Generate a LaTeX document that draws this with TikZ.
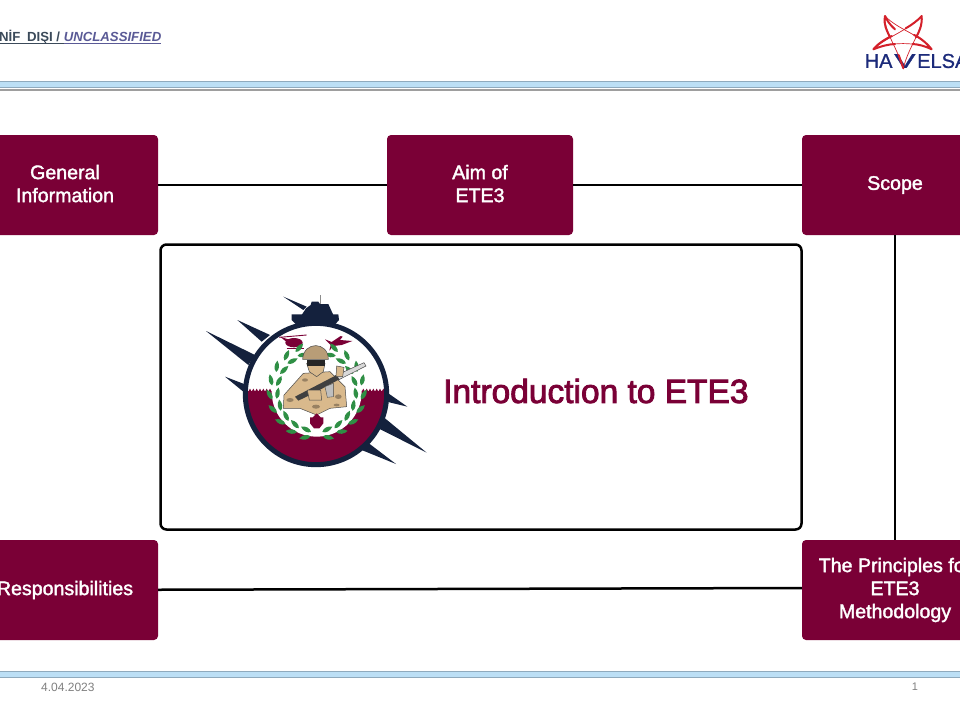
\documentclass[tikz,border=0pt]{standalone}
\usepackage{fontspec}
\setmainfont{Liberation Sans}
\newfontfamily\boxfont[FakeBold=1.8]{Liberation Sans}
\newfontfamily\titlefont[FakeBold=2.6]{Liberation Sans}
\newfontfamily\logofont[FakeBold=1]{Liberation Sans}
\usetikzlibrary{positioning}
\definecolor{maroon}{HTML}{7A0036}
\definecolor{navyring}{HTML}{14213D}
\definecolor{leafgreen}{HTML}{2F8F45}
\definecolor{khaki}{HTML}{D9B98C}
\definecolor{logoblue}{HTML}{1B2A7A}
\definecolor{logored}{HTML}{D4202A}
\definecolor{bandblue}{HTML}{BCDFF5}
\definecolor{bandedge}{HTML}{8FAABD}
\tikzset{
    topicbox/.style={fill=maroon,rounded corners=4pt,minimum width=186pt,minimum height=100pt,
        inner sep=0pt,align=center,text=white,font=\boxfont\fontsize{19.6}{23}\selectfont},
    band/.style={fill=bandblue},
    bandline/.style={draw=bandedge,line width=1pt},
    leaf/.style={fill=leafgreen},
    patch/.style={fill=khaki!70!black},
    kit/.style={fill=khaki,draw=black!70,line width=0.5pt},
}
\newcommand{\leafshape}{(0,0) .. controls (8,9) and (22,9) .. (34,0) .. controls (22,-9) and (8,-9) .. (0,0)}
\newcommand{\liftup}{\\[-20pt]\mbox{}}
\begin{document}
\begin{tikzpicture}[x=1pt,y=-1pt]
    \useasboundingbox (0,0) rectangle (960,720);
    \clip (0,0) rectangle (960,720);
    \fill[white] (0,0) rectangle (960,720);

    % header and footer
    \fill[band] (0,81) rectangle (960,88);
    \draw[bandline] (0,81) -- (960,81) (0,87.5) -- (960,87.5);
    \fill[black!38] (0,88.5) rectangle (960,90.5);
    \fill[band] (0,671) rectangle (960,678);
    \draw[bandline] (0,671) -- (960,671) (0,677.5) -- (960,677.5);
    \node (class) [anchor=base east,inner sep=0pt,font=\bfseries\fontsize{13.2}{15}\selectfont] at (161.5,41.5)
        {\color[HTML]{3B4A5A}\underline{\smash{TASNİF\hspace{3pt} DIŞI /\ }}\color[HTML]{5A5A96}\underline{\smash{\itshape UNCLASSIFIED}}};
    \node (date) [anchor=west,inner sep=0pt,text=black!50,font=\fontsize{12}{14}\selectfont] at (41,687) {4.04.2023};
    \node (page) [inner sep=0pt,text=black!50,font=\fontsize{11}{13}\selectfont] at (915,687) {1};

    % company logo
    \begin{scope}[every node/.style={anchor=west,inner sep=0pt,text=logoblue,font=\logofont\fontsize{20}{24}\selectfont}]
        \node (logoa) at (864.5,61) {HA};
        \node (logob) at (894,61) {\scalebox{1.6}[1]{V}};
        \node (logoc) at (917,61) {ELSAN};
    \end{scope}
    \begin{scope}[shift={(840,0)},scale=1/3,logored,line width=0.7pt,line cap=round]
        \draw (135,48) .. controls (175,90) and (235,100) .. (275,148);
        \draw (245,48) .. controls (200,95) and (140,110) .. (100,148);
        \draw (135,48) .. controls (130,90) and (170,140) .. (190,205);
        \draw (245,48) .. controls (250,90) and (205,140) .. (190,205);
        \draw (100,148) .. controls (150,125) and (230,125) .. (275,148);
        \draw[line width=2pt,line join=round] (165,88) .. controls (150,75) and (140,60) .. (135,48) .. controls (130,75) and (140,90) .. (150,112);
        \draw[line width=2pt,line join=round] (197,85) .. controls (215,75) and (235,60) .. (245,48) .. controls (247,75) and (238,95) .. (228,112);
        \draw[line width=2pt,line join=round] (222,105) .. controls (245,115) and (265,135) .. (275,148) .. controls (255,138) and (235,133) .. (218,132);
        \draw[line width=2pt,line join=round] (155,108) .. controls (130,120) and (110,135) .. (100,148) .. controls (125,138) and (145,133) .. (165,132);
        \draw[line width=2pt,line cap=round] (176,165) -- (190,205);
    \end{scope}

    % boxes
    \node (general) [topicbox] at (65,185) {General\\Information\liftup};
    \node (aim) [topicbox] at (480,185) {Aim of\\ETE3\liftup};
    \node (scope) [topicbox] at (895,185) {Scope};
    \node (resp) [topicbox] at (65,590) {Responsibilities};
    \node (princ) [topicbox] at (895,590) {The Principles for\\ETE3\\Methodology};
    \node (centre) [draw=black,line width=2.5pt,rounded corners=6pt,minimum width=641pt,minimum height=285pt] at (481,387) {};
    \node (title) [text=maroon,inner sep=0pt,anchor=west,font=\titlefont\fontsize{33.5}{38}\selectfont] at (443,391) {Introduction to ETE3};

    \begin{scope}[every path/.style={line width=2.5pt,black}]
        \path (general) edge (aim);
        \path (aim) edge (scope);
        \path (scope) edge (princ);
        \path (resp) edge ([yshift=2pt]princ.west);
    \end{scope}

    % emblem
    \begin{scope}[shift={(190,280)},scale=1/3]
        \fill[navyring] (48,153) -- (195,225) -- (175,255) -- cycle;
        \fill[navyring] (142,120) -- (240,165) -- (215,185) -- cycle;
        \fill[navyring] (105,290) -- (170,315) -- (160,335) -- cycle;
        \fill[navyring] (652,380) -- (590,365) -- (595,340) -- cycle;
        \fill[navyring] (710,518) -- (565,445) -- (585,415) -- cycle;
        \fill[navyring] (618,552) -- (515,510) -- (530,485) -- cycle;
        % tank
        \fill[navyring] (280,50) -- (350,80) -- (340,90) -- cycle;
        \draw[black!45,line width=0.8pt] (392,45) -- (392,75);
        \fill[navyring] (335,105) -- (348,85) -- (362,75) -- (365,65) -- (385,65) -- (390,72) -- (415,72) -- (430,105) -- cycle;
        \fill[navyring] (305,103) -- (445,103) -- (447,120) -- (425,145) -- (330,145) -- (305,120) -- cycle;
        % badge
        \fill[white] (378,342) circle (208);
        \begin{scope}
            \clip (378,342) circle (208);
            \fill[maroon] (160,332) rectangle (600,570);
            \foreach \xx in {170,180,...,590}
                \fill[maroon] (\xx-4,333) -- (\xx,326) -- (\xx+4,333) -- cycle;
        \end{scope}
        \fill[white] (380,335) circle (135);
        \draw[navyring,line width=5pt] (378,342) circle (212);
        % helicopter and plane
        \fill[maroon] (312,188) ellipse (26 and 14);
        \fill[maroon] (270,170) -- (295,178) -- (295,190) -- cycle;
        \draw[maroon,line width=0.9pt] (268,172) -- (350,165);
        \draw[maroon,line width=0.9pt] (290,205) -- (342,205);
        \fill[maroon] (405,178) -- (425,186) -- (452,168) -- (458,170) -- (450,180) -- (487,183) -- (455,195) -- (430,198) -- (418,212) -- (422,195) -- cycle;
        % wreath
        \foreach \ang in {-82,-64,...,72} {
            \begin{scope}[shift={(380,335)},rotate=\ang]
                \fill[leaf,shift={(135,0)},rotate=70] \leafshape;
                \fill[leaf,shift={(122,0)},rotate=110] \leafshape;
            \end{scope}
        }
        \foreach \ang in {262,244,...,108} {
            \begin{scope}[shift={(380,335)},rotate=\ang]
                \fill[leaf,shift={(135,0)},rotate=-70] \leafshape;
                \fill[leaf,shift={(122,0)},rotate=-110] \leafshape;
            \end{scope}
        }
        % soldier
        \fill[black!15,draw=black!70,line width=0.5pt] (522,248) -- (528,258) -- (395,325) -- (385,310) -- cycle;
        \fill[kit] (280,385) -- (282,345) -- (340,280) -- (420,275) -- (465,320) -- (470,380) -- (420,385) -- (380,405) -- (330,385) -- cycle;
        \fill[patch] (300,360) ellipse (11 and 6);
        \fill[patch] (445,350) ellipse (10 and 7);
        \fill[patch] (345,300) ellipse (9 and 5);
        \fill[patch] (378,380) ellipse (12 and 6);
        \fill[patch] (440,375) ellipse (9 and 4);
        \fill[kit] (350,250) -- (405,250) -- (400,275) -- (380,290) -- (358,275) -- cycle;
        \fill[black!85] (350,240) rectangle (405,258);
        \fill[khaki!85!black,draw=black!70,line width=0.5pt] (338,238) .. controls (340,183) and (415,183) .. (415,238) -- cycle;
        \fill[black!75] (315,350) -- (440,285) -- (448,298) -- (370,340) -- (325,362) -- cycle;
        \fill[black!25,draw=black!70,line width=0.4pt] (405,320) -- (430,310) -- (430,350) -- (412,352) -- cycle;
        \fill[kit] (440,258) -- (462,262) -- (458,290) -- (438,290) -- cycle;
        \fill[kit] (352,330) -- (392,330) -- (395,360) -- (358,360) -- cycle;
        % small leaf
        \fill[maroon] (380,400) -- (392,412) -- (400,412) -- (400,430) -- (388,445) -- (372,445) -- (360,430) -- (360,412) -- (368,412) -- cycle;
    \end{scope}
\end{tikzpicture}
\end{document}
